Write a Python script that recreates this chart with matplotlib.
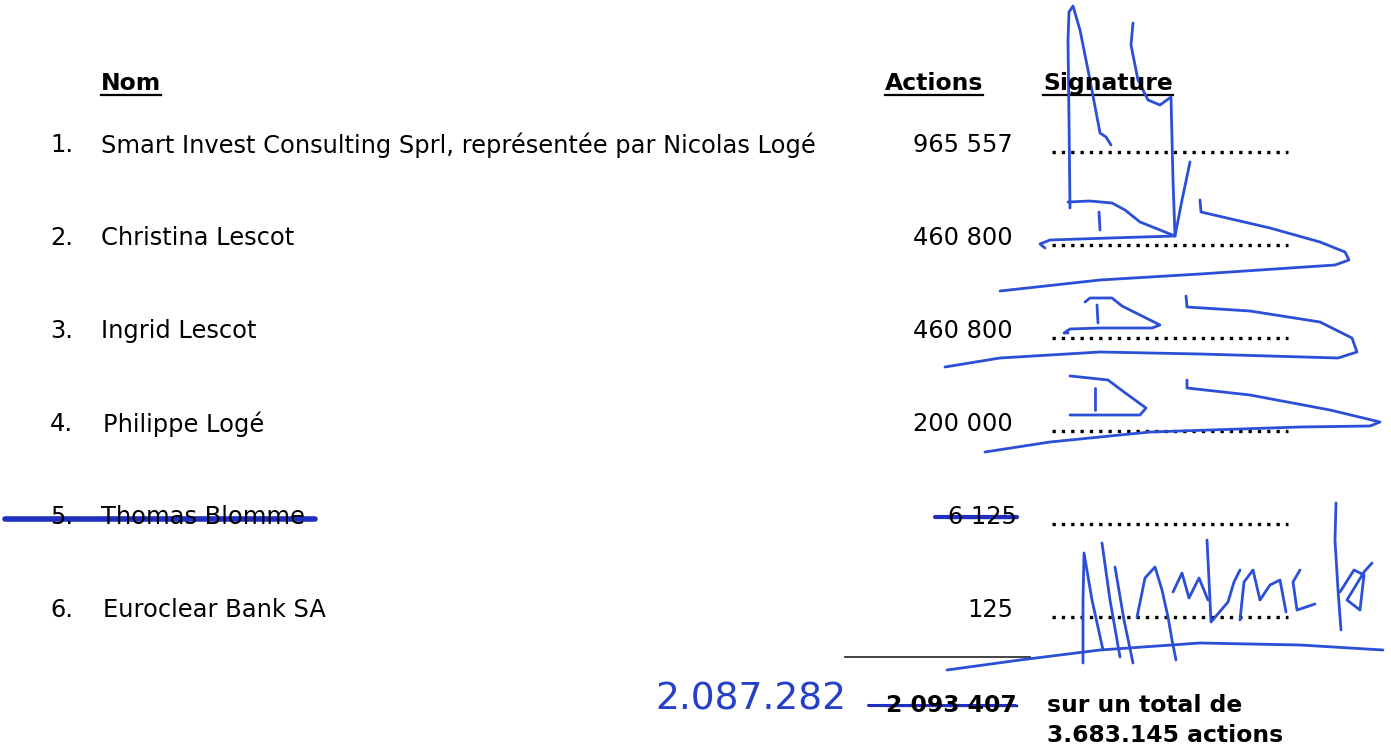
import matplotlib
matplotlib.use("Agg")
import matplotlib.pyplot as plt
import numpy as np

# ---- data ----
numbers = ["1.", "2.", "3.", "4.", "5.", "6."]
names = ["Smart Invest Consulting Sprl, représentée par Nicolas Logé",
         "Christina Lescot", "Ingrid Lescot", "Philippe Logé",
         "Thomas Blomme", "Euroclear Bank SA"]
shares = ["965 557", "460 800", "460 800", "200 000", "6 125", "125"]
struck = [False, False, False, False, True, False]
headers = ["Nom", "Actions", "Signature"]
total_printed = "2 093 407"
total_handwritten = "2.087.282"
total_text = ["sur un total de", "3.683.145 actions"]

# signature strokes (decorative handwriting, in page pixels)
sig_strokes = [
    # row 1 / 2 big signature
    [(1070, 208), (1069, 120), (1068, 40), (1069, 12), (1073, 6), (1080, 30), (1090, 80), (1100, 133), (1106, 137), (1111, 145)],
    [(1068, 202), (1090, 201), (1112, 203), (1125, 210), (1140, 222), (1175, 236), (1173, 180), (1171, 97), (1160, 105), (1148, 100), (1138, 80), (1131, 45), (1133, 23)],
    [(1175, 236), (1182, 200), (1190, 162)],
    [(1099, 212), (1100, 230)],
    [(1175, 236), (1110, 238), (1050, 240), (1040, 244), (1045, 248)],
    [(1200, 200), (1201, 212), (1270, 228), (1320, 242), (1345, 252), (1349, 260), (1335, 265), (1290, 268), (1200, 274), (1100, 280), (1000, 291)],
    # row 3
    [(1085, 302), (1090, 298), (1112, 298), (1122, 306), (1140, 315), (1160, 325), (1152, 328), (1100, 328), (1070, 329), (1064, 333), (1068, 333)],
    [(1097, 305), (1098, 323)],
    [(1186, 296), (1187, 307), (1250, 311), (1320, 322), (1352, 338), (1357, 352), (1338, 358), (1200, 354), (1100, 352), (1000, 358), (945, 367)],
    # row 4
    [(1070, 376), (1080, 377), (1108, 380), (1124, 392), (1146, 408), (1140, 415), (1110, 415), (1070, 415)],
    [(1095, 388), (1095, 410)],
    [(1187, 380), (1187, 388), (1250, 395), (1330, 410), (1380, 422), (1370, 426), (1300, 427), (1150, 432), (1050, 442), (985, 452)],
    # row 6 signature
    [(947, 670), (1020, 660), (1100, 650), (1200, 643), (1300, 645), (1383, 650)],
    [(1083, 663), (1083, 600), (1084, 553), (1092, 600), (1103, 650)],
    [(1102, 543), (1110, 600), (1120, 657)],
    [(1115, 567), (1124, 620), (1133, 663)],
    [(1137, 617), (1145, 578), (1155, 567), (1162, 590), (1168, 617), (1172, 640), (1176, 660)],
    [(1173, 592), (1182, 573), (1189, 598), (1199, 578), (1208, 600)],
    [(1207, 540), (1209, 580), (1211, 622), (1228, 602), (1234, 582), (1240, 570)],
    [(1240, 620), (1244, 582), (1253, 570), (1260, 600), (1270, 585), (1280, 580), (1286, 612)],
    [(1300, 570), (1293, 582), (1297, 610), (1315, 604)],
    [(1336, 503), (1335, 540), (1338, 590), (1341, 630)],
    [(1340, 592), (1354, 570), (1364, 575), (1360, 610), (1347, 600), (1364, 572), (1372, 563)],
]
blue = "#2b4fd6"

fig = plt.figure(figsize=(13.91, 7.51), dpi=100)
ax = fig.add_axes([0, 0, 1, 1])
ax.set_xlim(0, 1391)
ax.set_ylim(751, 0)
ax.axis("off")

fs = 17.4
fsb = 16.9
font = "DejaVu Sans"
row_y = [145, 238, 331, 424, 517, 610]

hdr = []
hdr.append(ax.text(101, 90, headers[0], fontsize=fsb, fontweight="bold", family=font, va="baseline", ha="left"))
hdr.append(ax.text(983, 90, headers[1], fontsize=fsb, fontweight="bold", family=font, va="baseline", ha="right"))
hdr.append(ax.text(1043, 90, headers[2], fontsize=fsb, fontweight="bold", family=font, va="baseline", ha="left"))

strike_texts = []
for i, y in enumerate(row_y):
    t1 = ax.text(50, y, numbers[i], fontsize=fs, family=font, va="center", ha="left")
    t2 = ax.text(101 if i not in (3, 5) else 103, y, names[i], fontsize=fs, family=font, va="center", ha="left")
    t3 = ax.text(1013 if i != 4 else 1017, y, shares[i], fontsize=fs, family=font, va="center", ha="right")
    ax.plot([1052, 1288], [y + 7, y + 7], color="black", linewidth=2.4,
            linestyle=(0, (1, 1.8)), dash_capstyle="butt", solid_capstyle="butt")
    if struck[i]:
        strike_texts += [t1, t2, t3]

# rule above total
ax.plot([845, 1030], [657, 657], color="#222222", linewidth=1.2)

tp = ax.text(1017, 705, total_printed, fontsize=fsb, fontweight="bold", family=font, va="center", ha="right")
strike_texts.append(tp)
ax.text(1047, 705, total_text[0], fontsize=fsb, fontweight="bold", family=font, va="center", ha="left")
ax.text(1047, 735, total_text[1], fontsize=fsb, fontweight="bold", family=font, va="center", ha="left")
ax.text(655, 700, total_handwritten, fontsize=27, family=font, fontweight="normal",
        color="#2440c8", va="center", ha="left")

fig.canvas.draw()
r = fig.canvas.get_renderer()
inv = ax.transData.inverted()

def extent(t):
    bb = t.get_window_extent(r)
    (x0, y0), (x1, y1) = inv.transform([(bb.x0, bb.y0), (bb.x1, bb.y1)])
    return x0, x1, y0, y1

for t in hdr:
    x0, x1, y0, y1 = extent(t)
    ax.plot([x0, x1], [95, 95], color="black", linewidth=1.6)

for t in strike_texts:
    x0, x1, y0, y1 = extent(t)
    ym = (y0 + y1) / 2 + 1
    ax.plot([x0, x1], [ym, ym], color="black", linewidth=1.6)

# blue strike-through lines
ax.plot([5, 315], [519, 519], color="#1f2fc0", linewidth=4, solid_capstyle="round")
ax.plot([935, 1017], [517, 517], color="#1f2fc0", linewidth=3, solid_capstyle="round")
ax.plot([868, 1015], [705, 705], color="#1f2fc0", linewidth=2.2, solid_capstyle="round")

for s in sig_strokes:
    xs, ys = zip(*s)
    ax.plot(xs, ys, color=blue, linewidth=2.0, solid_capstyle="round", solid_joinstyle="round")

fig.savefig("out.png", dpi=100)
